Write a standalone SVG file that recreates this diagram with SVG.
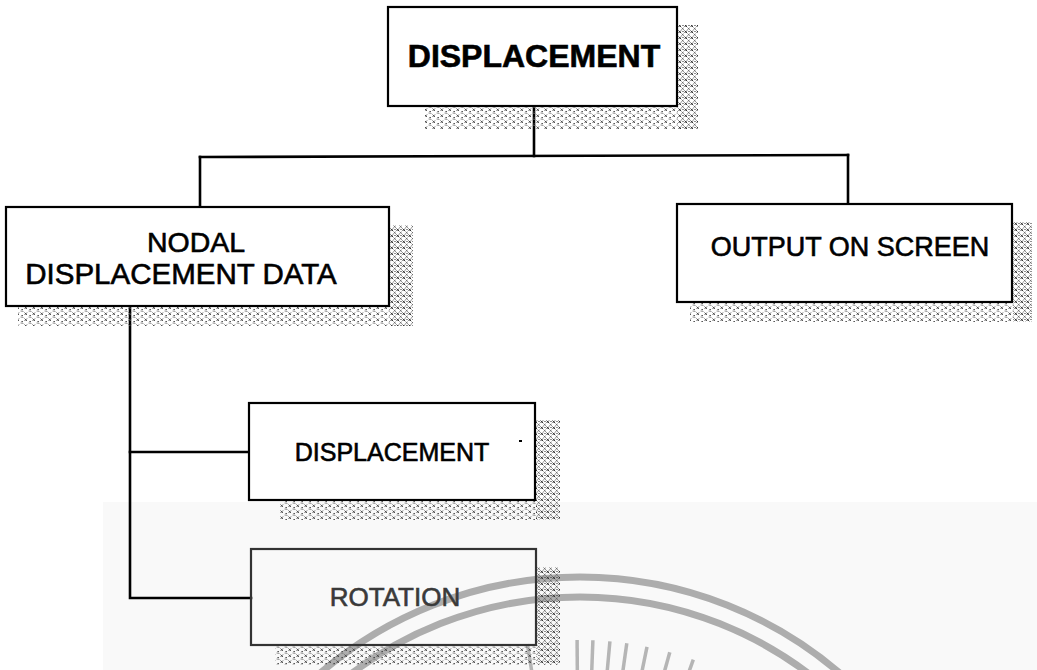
<svg xmlns="http://www.w3.org/2000/svg" width="1037" height="670" viewBox="0 0 1037 670">
<style>
.box{fill:#fff;stroke:#000;stroke-width:2.2}
.conn{fill:none;stroke:#000;stroke-width:2.6;stroke-linecap:square}
.lbl{font-family:"Liberation Sans",Arial,sans-serif;fill:#000;stroke:#000;stroke-width:0.6;text-anchor:middle}
.sh{fill:url(#hatch)}
.shb{fill:url(#hatch2)}
.wm{fill:none;stroke:#adadad}
</style>
<defs>
<pattern id="hatch" width="6" height="6" patternUnits="userSpaceOnUse">
<path d="M0.5,0.5 L3,3 M3,0.5 L0.5,3" stroke="#333" stroke-width="1"/>
<path d="M3.5,3.5 L5.8,5.8 M5.8,3.5 L3.5,5.8" stroke="#666" stroke-width="0.9"/>
<rect x="4.5" y="1" width="1" height="1" fill="#222"/>
</pattern>
<pattern id="hatch2" width="8" height="6" patternUnits="userSpaceOnUse">
<path d="M0.5,0.5 L3,3 M3,0.5 L0.5,3" stroke="#444" stroke-width="0.9"/>
<rect x="5.5" y="3" width="1.3" height="1.2" fill="#333"/>
<path d="M4.5,5 L7.5,5.5" stroke="#777" stroke-width="0.8"/>
</pattern>
</defs>

<rect x="103" y="502" width="934" height="168" fill="#f9f9f9"/>

<g id="watermark">
<circle class="wm" cx="580" cy="976" r="399" stroke-width="7"/>
<circle class="wm" cx="580" cy="976" r="379" stroke-width="7"/>
<g stroke="#b5b5b5" stroke-width="3.5">
<line x1="527.4" y1="644.1" x2="533.7" y2="683.6"/>
<line x1="577.1" y1="640" x2="577.4" y2="680"/>
<line x1="592.9" y1="640.2" x2="591.4" y2="680.2"/>
<line x1="609.9" y1="641.3" x2="606.3" y2="681.2"/>
<line x1="626.8" y1="643.3" x2="621.2" y2="682.9"/>
<line x1="647" y1="646.8" x2="639" y2="685.9"/>
<line x1="669.8" y1="652.2" x2="659.1" y2="690.8"/>
<line x1="693.3" y1="659.7" x2="679.8" y2="697.3"/>
</g>
</g>

<g id="connectors">
<path class="conn" d="M534,106 L534,156"/>
<path class="conn" d="M200,157 L848,155"/>
<path class="conn" d="M200,157 L200,207"/>
<path class="conn" d="M848,155 L848,204"/>
<path class="conn" d="M130,306 L130,598 L251,598"/>
<path class="conn" d="M130,452 L249,452"/>
</g>

<g id="node-displacement-top">
<rect class="sh" x="678" y="25" width="20" height="104"/>
<rect class="shb" x="425" y="107" width="253" height="22"/>
<rect class="box" x="388" y="7" width="289" height="99"/>
<text class="lbl" x="534" y="67" font-size="32" font-weight="bold" stroke-width="0.3">DISPLACEMENT</text>
</g>

<g id="node-nodal">
<rect class="sh" x="390" y="225" width="23" height="101"/>
<rect class="shb" x="18" y="307" width="372" height="19"/>
<rect class="box" x="6" y="207" width="383" height="99"/>
<text class="lbl" x="196" y="252" font-size="28.5">NODAL</text>
<text class="lbl" x="181" y="284" font-size="29.5">DISPLACEMENT DATA</text>
</g>

<g id="node-output">
<rect class="sh" x="1013" y="222" width="19" height="100"/>
<rect class="shb" x="690" y="303" width="323" height="19"/>
<rect class="box" x="677" y="204" width="335" height="98"/>
<text class="lbl" x="850" y="256" font-size="27">OUTPUT ON SCREEN</text>
</g>

<g id="node-displacement">
<rect class="sh" x="536" y="420" width="24" height="100"/>
<rect class="shb" x="280" y="501" width="256" height="19"/>
<rect class="box" x="249" y="403" width="286" height="97"/>
<text class="lbl" x="392" y="461" font-size="25">DISPLACEMENT</text>
<rect x="519" y="440" width="3" height="2" fill="#000"/>
</g>

<g id="node-rotation">
<rect class="sh" x="537" y="567" width="23" height="98"/>
<rect class="shb" x="275" y="646" width="262" height="19"/>
<rect x="251" y="549" width="285" height="96" fill="none" stroke="#333" stroke-width="2.2"/>
<text class="lbl" x="395" y="606" font-size="26" style="fill:#3a3a3a;stroke:#3a3a3a">ROTATION</text>
</g>
</svg>
